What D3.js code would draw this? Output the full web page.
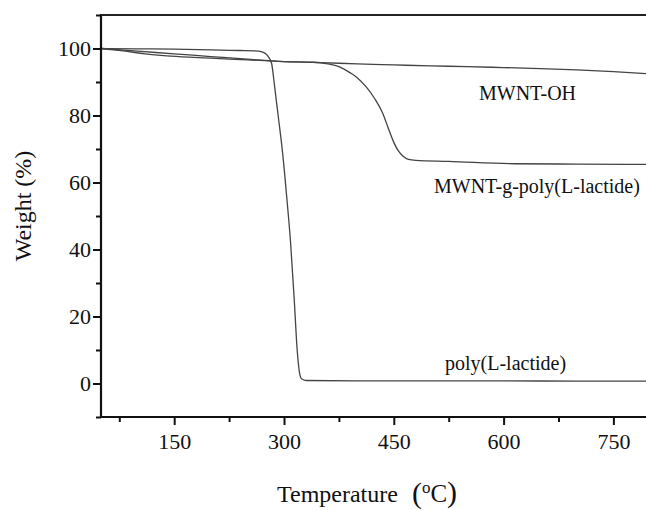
<!DOCTYPE html>
<html>
<head>
<meta charset="utf-8">
<script src="https://cdn.jsdelivr.net/npm/d3@7"></script>
</head>
<body style="margin:0">
<script>
// Data ------------------------------------------------------------------------------------------------------
const ohTemp = [50, 80, 110, 140, 170, 200, 250, 300, 350, 400, 450, 500, 550, 600, 650, 700, 750, 800];
const ohWeight = [100, 99.3, 98.4, 97.8, 97.4, 97.1, 96.6, 96.1, 95.8, 95.4, 95.1, 94.8, 94.6, 94.3, 94.0, 93.6, 93.1, 92.4];

const graftTemp = [50, 100, 150, 200, 250, 300, 340, 360, 375, 390, 400, 412, 424, 435, 442, 449, 456, 462, 470, 480, 525, 616, 700, 800];
const graftWeight = [100, 99.2, 98.4, 97.6, 96.8, 96.1, 95.9, 95.4, 94.6, 92.8, 91.3, 88.6, 85, 80.6, 76.5, 72.5, 69.5, 68, 66.9, 66.6, 66.3, 65.6, 65.5, 65.4];

const plaTemp = [50, 100, 150, 200, 240, 260, 270, 277, 283, 287, 292, 298, 304, 309, 314, 318, 321, 324, 330, 400, 500, 600, 700, 800];
const plaWeight = [100, 99.9, 99.8, 99.6, 99.4, 99.3, 99.0, 98.0, 95.6, 89, 80, 69, 55, 42, 25, 10, 3.5, 1.4, 0.9, 0.8, 0.8, 0.8, 0.7, 0.7];

const seriesLabels = ["MWNT-OH", "MWNT-g-poly(L-lactide)", "poly(L-lactide)"];

const xMajorTicks = [150, 300, 450, 600, 750];
const xMinorTicks = [75, 225, 375, 525, 675];
const yMajorTicks = [0, 20, 40, 60, 80, 100];
const yMinorTicks = [-10, 10, 30, 50, 70, 90, 110];

const serif = "Liberation Serif";

// Graph Dimensions ------------------------------------------------------------------------------------------
const width = 646,
      height = 510;

const svg = d3.select("body").append("svg")
.attr("width", width)
.attr("height", height);

const x = d3.scaleLinear()
.domain([50, 800])
.range([101, 650]);

const y = d3.scaleLinear()
.domain([-10, 110])
.range([417, 15]);

// Lines -----------------------------------------------------------------------------------------------------
const line = d3.line()
.curve(d3.curveMonotoneX)
.x(d => x(d[0]))
.y(d => y(d[1]));

const series = [
  d3.zip(ohTemp, ohWeight),
  d3.zip(graftTemp, graftWeight),
  d3.zip(plaTemp, plaWeight)
];

svg.selectAll(".curve")
.data(series)
.enter()
.append("path")
.attr("class", "curve")
.attr("d", line)
.attr("fill", "none")
.attr("stroke", "#444")
.attr("stroke-width", 1.3);

// Axes ------------------------------------------------------------------------------------------------------
const axisStyle = g => {
  g.attr("font-family", serif).attr("font-size", 22);
  g.select(".domain").remove();
  g.selectAll(".tick line").attr("stroke", "#111").attr("stroke-width", 2);
  g.selectAll(".tick text")
  .attr("font-family", serif)
  .attr("font-size", 22)
  .attr("fill", "#111");
};

// Y axis
svg.append("g")
.attr("transform", "translate(101,0)")
.call(d3.axisLeft(y).tickValues(yMajorTicks).tickSize(8).tickPadding(2))
.call(axisStyle);

svg.append("g")
.attr("transform", "translate(101,0)")
.call(d3.axisLeft(y).tickValues(yMinorTicks).tickSize(5).tickFormat(""))
.call(axisStyle);

// X axis
svg.append("g")
.attr("transform", "translate(0,417)")
.call(d3.axisBottom(x).tickValues(xMajorTicks).tickSize(8).tickPadding(8))
.call(axisStyle);

svg.append("g")
.attr("transform", "translate(0,417)")
.call(d3.axisBottom(x).tickValues(xMinorTicks).tickSize(5).tickFormat(""))
.call(axisStyle);

// Frame lines (left, bottom, top)
svg.append("line")
.attr("x1", x(50)).attr("x2", x(50))
.attr("y1", y(110) - 1).attr("y2", y(-10) + 1)
.attr("stroke", "#111").attr("stroke-width", 2.2);

svg.append("line")
.attr("x1", x(50)).attr("x2", width)
.attr("y1", y(-10)).attr("y2", y(-10))
.attr("stroke", "#111").attr("stroke-width", 2.2);

svg.append("line")
.attr("x1", x(50)).attr("x2", width)
.attr("y1", y(110)).attr("y2", y(110))
.attr("stroke", "#222").attr("stroke-width", 2.2);

// Series labels ---------------------------------------------------------------------------------------------
const labelPos = [[479, 100], [434, 193], [445, 370]];
svg.selectAll(".series-label")
.data(seriesLabels)
.enter()
.append("text")
.attr("class", "series-label")
.attr("x", (d, i) => labelPos[i][0])
.attr("y", (d, i) => labelPos[i][1])
.attr("font-family", serif)
.attr("font-size", 20)
.attr("fill", "#111")
.text(d => d);

// Axis titles -----------------------------------------------------------------------------------------------
svg.append("text")
.attr("transform", "translate(31,206) rotate(-90)")
.attr("text-anchor", "middle")
.attr("font-family", serif)
.attr("font-size", 24)
.attr("fill", "#111")
.text("Weight (%)");

const xTitle = svg.append("text")
.attr("x", 277)
.attr("y", 502)
.attr("font-family", serif)
.attr("font-size", 24)
.attr("fill", "#111");
xTitle.append("tspan").text("Temperature ");
xTitle.append("tspan").attr("dx", 8).attr("font-size", 30).attr("dy", 1).text("(");
xTitle.append("tspan").attr("font-size", 17).attr("dy", -10).text("o");
xTitle.append("tspan").attr("font-size", 25).attr("dy", 9).text("C");
xTitle.append("tspan").attr("font-size", 30).attr("dy", 0).text(")");
</script>
</body>
</html>
